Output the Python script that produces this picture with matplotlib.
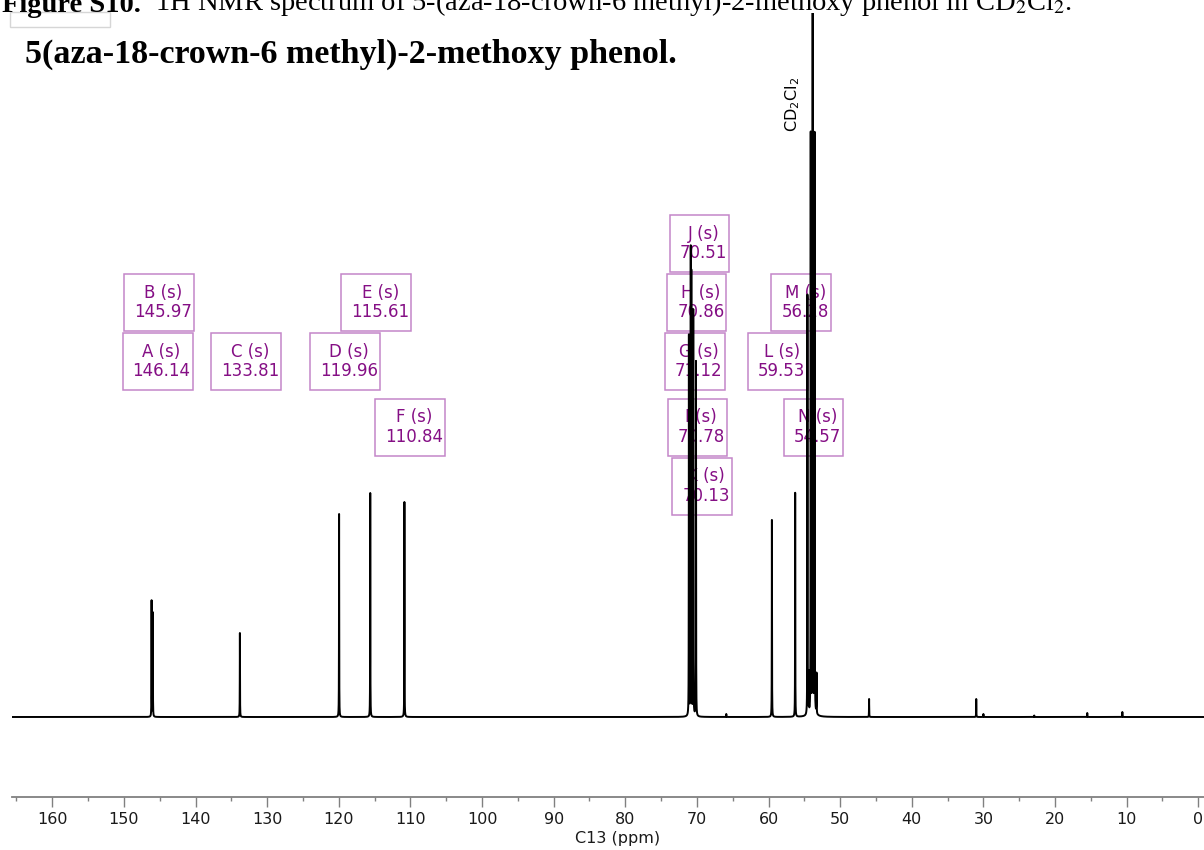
#!/usr/bin/env python3
"""
13C NMR spectrum of 5(aza-18-crown-6 methyl)-2-methoxy phenol in CD2Cl2,
drawn as a stick/Lorentzian trace with MestReNova-style peak labels.
"""
import numpy as np
import matplotlib
matplotlib.use('Agg')
import matplotlib.pyplot as plt
from matplotlib.ticker import MultipleLocator
from matplotlib.patches import Rectangle
from matplotlib.transforms import IdentityTransform

# ---------- Peak table ----------
PEAK_NAMES = ['A', 'B', 'C', 'D', 'E', 'F', 'G', 'H', 'I', 'J', 'K', 'L', 'M', 'N']
PEAK_PPM = [146.14, 145.97, 133.81, 119.96, 115.61, 110.84,
            71.12, 70.86, 70.78, 70.51, 70.13, 59.53, 56.28, 54.57]
PEAK_HEIGHT = [116, 104, 84, 203, 224, 215,
               380, 455, 430, 405, 355, 197, 224, 420]
# stacking row of each label box (0 = top row)
LABEL_ROW = [2, 1, 2, 2, 1, 3, 2, 1, 3, 0, 4, 2, 1, 3]

# CD2Cl2 quintet and its broad foot
SOLVENT_PPM = [54.38, 54.11, 53.84, 53.57, 53.30]
SOLVENT_HEIGHT = [40, 578, 900, 578, 40]
SOLVENT_FOOT = (53.84, 6, 0.35)

# small impurity lines
IMPURITY_PPM = [65.9, 45.96, 31.0, 30.0, 22.9, 15.5, 10.6]
IMPURITY_HEIGHT = [3, 18, 18, 3, 1.5, 4, 5]

X_LEFT, X_RIGHT = 165.67, -0.8
Y_BOTTOM, Y_TOP = -80, 704

LABEL_COLOR = '#850f85'
BOX_COLOR = '#c486c9'
ROW_Y = [606.5, 547.5, 488.5, 423, 364]  # label row centres, figure pixels
BOX_H = 57


def lorentz(x, x0, h, hw):
    return h * hw ** 2 / ((x - x0) ** 2 + hw ** 2)


def build_trace():
    all_ppm = PEAK_PPM + SOLVENT_PPM + IMPURITY_PPM
    x = np.union1d(np.linspace(X_RIGHT, X_LEFT, 40000), np.array(all_ppm))[::-1]
    y = np.zeros_like(x)
    for p, h in zip(PEAK_PPM + SOLVENT_PPM + IMPURITY_PPM,
                    PEAK_HEIGHT + SOLVENT_HEIGHT + IMPURITY_HEIGHT):
        y += lorentz(x, p, h, 0.015)
    p0, h0, w0 = SOLVENT_FOOT
    y += lorentz(x, p0, h0, w0)
    return x, y


def main():
    fig = plt.figure(figsize=(12.04, 8.5), dpi=100)
    W, H = 1204, 850
    ax = fig.add_axes([11.7 / W, 53 / H, 1 - 11.7 / W, (797 - 13) / H])

    x, y = build_trace()
    ax.plot(x, y, color='black', linewidth=1.4, zorder=3)
    ax.set_xlim(X_LEFT, X_RIGHT)
    ax.set_ylim(Y_BOTTOM, Y_TOP)

    for side in ['top', 'left', 'right']:
        ax.spines[side].set_visible(False)
    ax.spines['bottom'].set_color('#808080')
    ax.spines['bottom'].set_linewidth(1.3)
    ax.set_yticks([])
    ax.xaxis.set_major_locator(MultipleLocator(10))
    ax.xaxis.set_minor_locator(MultipleLocator(5))
    ax.tick_params(axis='x', which='major', length=7, width=1, color='#808080',
                   labelsize=11.5, labelcolor='#1a1a1a', pad=4)
    ax.tick_params(axis='x', which='minor', length=3, width=1, color='#808080')
    ax.set_facecolor('none')

    fig.text(618 / W, 1 - 838 / H, 'C13 (ppm)', ha='center', va='center',
             fontsize=11.5, color='#1a1a1a')

    # peak labels sit under the trace
    labels = []
    for name, p, row in zip(PEAK_NAMES, PEAK_PPM, LABEL_ROW):
        t = ax.annotate(f'{name} (s)\n{p:.2f}', xy=(p, ROW_Y[row]),
                        xycoords=('data', 'figure pixels'),
                        xytext=(10, 0), textcoords='offset pixels',
                        ha='center', va='center', fontsize=12, color=LABEL_COLOR,
                        linespacing=1.1, annotation_clip=False, zorder=1)
        labels.append((t, ROW_Y[row]))

    # boxes: wider margin on the left, like the MestReNova labels
    fig.canvas.draw()
    for t, cy in labels:
        bb = t.get_window_extent()
        box = Rectangle((bb.x0 - 10, cy - BOX_H / 2), bb.width + 12, BOX_H,
                        transform=IdentityTransform(), facecolor='white',
                        edgecolor=BOX_COLOR, linewidth=1.1, zorder=-1)
        fig.add_artist(box)

    fig.text(793 / W, 1 - 105 / H, r'CD$_2$Cl$_2$', rotation=90,
             ha='center', va='center', fontsize=11.5, color='black')

    # title and the caption line cut off at the top of the page
    fig.text(25 / W, 1 - 63 / H, '5(aza-18-crown-6 methyl)-2-methoxy phenol.',
             ha='left', va='baseline', fontsize=24.5, fontweight='bold',
             family='Liberation Serif')
    cap = fig.text(2 / W, 1 - 12 / H, 'Figure S10.', ha='left', va='baseline',
                   fontsize=20.5, fontweight='bold', family='Liberation Serif')
    ax.annotate('  1H NMR spectrum of 5-(aza-18-crown-6 methyl)-2-methoxy phenol in CD$_2$Cl$_2$.',
                xy=(1, 0), xycoords=cap, va='bottom', ha='left',
                fontsize=20.5, family='Liberation Serif', math_fontfamily='stix',
                annotation_clip=False)
    fig.add_artist(Rectangle((10 / W, 1 - 27 / H), 100 / W, 15 / H,
                             transform=fig.transFigure, facecolor='none',
                             edgecolor='#d6d6d6', linewidth=1))

    fig.savefig('out.png', dpi=100)
    plt.close(fig)


if __name__ == '__main__':
    main()
